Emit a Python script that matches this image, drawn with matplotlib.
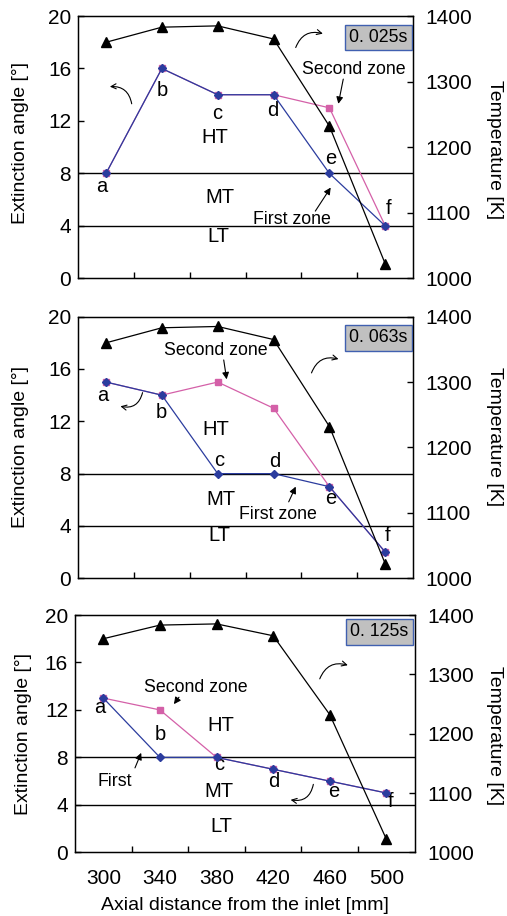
import matplotlib
matplotlib.use("Agg")
import matplotlib.pyplot as plt

plt.rcParams["font.family"] = ["Liberation Sans", "DejaVu Sans"]

# data
distance = [300, 340, 380, 420, 460, 500]
point_labels = ["a", "b", "c", "d", "e", "f"]
temperature = [1360, 1383, 1385, 1365, 1232, 1022]

times = ["0. 025s", "0. 063s", "0. 125s"]
first_zone = [
    [8, 16, 14, 14, 8, 4],
    [15, 14, 8, 8, 7, 2],
    [13, 8, 8, 7, 6, 5],
]
second_zone = [
    [8, 16, 14, 14, 13, 4],
    [15, 14, 15, 13, 7, 2],
    [13, 12, 8, 7, 6, 5],
]

BLUE = "#2b3c9e"
PINK = "#d460a8"

fig = plt.figure(figsize=(5.07, 9.16), dpi=100)
rects = [
    [0.154, 0.6961, 0.661, 0.2864],
    [0.154, 0.3687, 0.661, 0.2856],
    [0.148, 0.0695, 0.670, 0.2591],
]

# text positions (x, y) for letters, zone labels and arrows per panel
letter_pos = [
    [(296.7, 7.0), (340.4, 14.3), (379.6, 12.6), (419.5, 12.8), (460.8, 9.15), (502.6, 5.3)],
    [(297.6, 14.0), (339.7, 12.7), (381.3, 9.0), (420.7, 8.9), (460.8, 6.1), (501.4, 3.3)],
    [(297.6, 12.2), (340.0, 9.9), (381.6, 7.36), (420.5, 6.0), (462.8, 5.1), (502.8, 4.27)],
]
region_pos = [
    [(377.9, 10.75), (381.3, 6.2), (380.8, 3.2)],
    [(378.4, 11.4), (382.0, 6.0), (381.3, 3.3)],
    [(383.3, 10.65), (382.0, 5.1), (383.3, 2.2)],
]
second_txt = [("Second zone", 477.5, 15.9), ("Second zone", 378.4, 17.4), ("Second zone", 365.2, 13.9)]
second_arrow = [((470.3, 15.4), (466.0, 13.1)), ((384.0, 16.9), (386.7, 15.0)), ((354.6, 13.26), (348.7, 12.3))]
first_txt = [("First zone", 433.3, 4.5), ("First zone", 423.0, 4.84), ("First", 308.2, 6.0)]
first_arrow = [((448.8, 4.95), (462.0, 7.1)), ((430.0, 5.65), (436.7, 7.2)), ((321.6, 6.9), (327.5, 8.6))]
left_curve = [((318.7, 13.1), (300.8, 14.6), 0.5), ((326.6, 14.4), (308.4, 13.2), -0.55),
              ((448.7, 5.96), (430.4, 4.47), -0.55)]
right_curve = [((435.2, 17.4), (457.2, 18.6), -0.5), ((446.5, 15.5), (468.4, 16.7), -0.5),
               ((452.2, 14.4), (474.6, 15.7), -0.5)]
box_y = [0.918, 0.92, 0.93]
ylab_left = [(-0.146, 0.515), (-0.146, 0.5), (-0.126, 0.5)]
ylab_right = [(1.269, 0.49), (1.269, 0.54), (1.259, 0.49)]

for k in range(3):
    ax = fig.add_axes(rects[k])
    ax2 = ax.twinx()

    ax.axhline(8, color="black", lw=1.0, zorder=1)
    ax.axhline(4, color="black", lw=1.0, zorder=1)

    ax.plot(distance, second_zone[k], color=PINK, lw=0.9, marker="s", ms=4.5,
            mfc=PINK, mec=PINK, zorder=3)
    ax.plot(distance, first_zone[k], color=BLUE, lw=0.9, marker="D", ms=3.6,
            mfc=BLUE, mec=BLUE, zorder=4)
    ax2.plot(distance, temperature, color="black", lw=0.9, marker="^", ms=6.5)

    ax.set_xlim(280, 520)
    ax.set_ylim(0, 20)
    ax.set_yticks([0, 4, 8, 12, 16, 20])
    ax2.set_ylim(1000, 1400)
    ax2.set_yticks([1000, 1100, 1200, 1300, 1400])

    ax.set_xticks([320, 360, 400, 440, 480])
    ax.set_xticklabels([])
    ax.tick_params(axis="x", which="major", direction="in", length=4, width=1)
    if k == 2:
        ax.set_xticks(distance, minor=True)
        ax.set_xticklabels([str(d) for d in distance], minor=True)
        ax.tick_params(axis="x", which="minor", length=0, pad=12, labelsize=15)
        ax.set_xlabel("Axial distance from the inlet [mm]", fontsize=14)
        ax.xaxis.set_label_coords(0.5, -0.19)

    ax.tick_params(axis="y", direction="in", length=4, width=1, labelsize=15, pad=5)
    ax2.tick_params(axis="y", direction="in", length=4, width=1, labelsize=15, pad=9)

    ax.set_ylabel("Extinction angle [°]", fontsize=14)
    ax2.set_ylabel("Temperature [K]", fontsize=14, rotation=270)
    ax.yaxis.set_label_coords(*ylab_left[k])
    ax2.yaxis.set_label_coords(*ylab_right[k])

    for sp in ax.spines.values():
        sp.set_linewidth(1.0)

    for lab, (x, y) in zip(point_labels, letter_pos[k]):
        ax.text(x, y, lab, ha="center", va="center", fontsize=14.5)
    for lab, (x, y) in zip(["HT", "MT", "LT"], region_pos[k]):
        ax.text(x, y, lab, ha="center", va="center", fontsize=14.5)

    t, x, y = second_txt[k]
    ax.text(x, y, t, ha="center", va="center", fontsize=12.8)
    s, e = second_arrow[k]
    ax.annotate("", xy=e, xytext=s,
                arrowprops=dict(arrowstyle="-|>", lw=0.8, color="black", mutation_scale=10))
    t, x, y = first_txt[k]
    ax.text(x, y, t, ha="center", va="center", fontsize=12.8)
    s, e = first_arrow[k]
    ax.annotate("", xy=e, xytext=s,
                arrowprops=dict(arrowstyle="-|>", lw=0.8, color="black", mutation_scale=10))

    s, e, r = left_curve[k]
    ax.annotate("", xy=e, xytext=s,
                arrowprops=dict(arrowstyle="->", lw=0.8, color="black",
                                connectionstyle=f"arc3,rad={r}", mutation_scale=9))
    s, e, r = right_curve[k]
    ax.annotate("", xy=e, xytext=s,
                arrowprops=dict(arrowstyle="->", lw=0.8, color="black",
                                connectionstyle=f"arc3,rad={r}", mutation_scale=9))

    ax.text(0.896, box_y[k], times[k], transform=ax.transAxes, ha="center", va="center",
            fontsize=12.8, zorder=6,
            bbox=dict(boxstyle="square,pad=0.25", fc="#c0c0c0", ec="#4060b0", lw=1.0))

fig.savefig("out.png", dpi=100)
